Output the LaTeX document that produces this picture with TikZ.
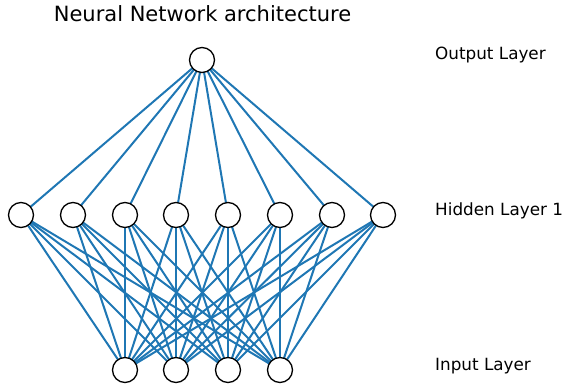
\documentclass[tikz,border=0pt]{standalone}
\usepackage{fontspec}
\setmainfont{DejaVu Sans}
\definecolor{mplblue}{HTML}{1F77B4}
\pgfdeclarelayer{bg}
\pgfsetlayers{bg,main}
\begin{document}
\begin{tikzpicture}[x=1pt,y=-1pt,
  neuron/.style={circle,draw=black,fill=white,line width=1.3pt,minimum size=25pt,inner sep=0pt},
  conn/.style={draw=mplblue,line width=2pt},
  lbl/.style={font=\fontsize{16.8}{19}\selectfont,anchor=base west,inner sep=0pt},
  ttl/.style={font=\fontsize{21}{24}\selectfont,anchor=base,inner sep=0pt}]
\useasboundingbox (0,0) rectangle (567,390);
\node[neuron] (o) at (202,60) {};
\foreach \i/\x in {1/21,2/73,3/125,4/176,5/228,6/280,7/332,8/383}
  \node[neuron] (h\i) at (\x,215) {};
\foreach \i/\x in {1/125,2/176,3/228,4/280}
  \node[neuron] (in\i) at (\x,370) {};
\begin{pgfonlayer}{bg}
\foreach \i in {1,...,8} {
  \path[conn] (o.center) -- (h\i.center);
  \foreach \j in {1,...,4}
    \path[conn] (h\i.center) -- (in\j.center);
}
\end{pgfonlayer}
\node[ttl] (title) at (202.5,22) {Neural Network architecture};
\node[lbl] (lo) at (435,60) {Output Layer};
\node[lbl] (lh) at (435,215) {Hidden Layer 1};
\node[lbl] (li) at (435,370) {Input Layer};
\end{tikzpicture}
\end{document}
